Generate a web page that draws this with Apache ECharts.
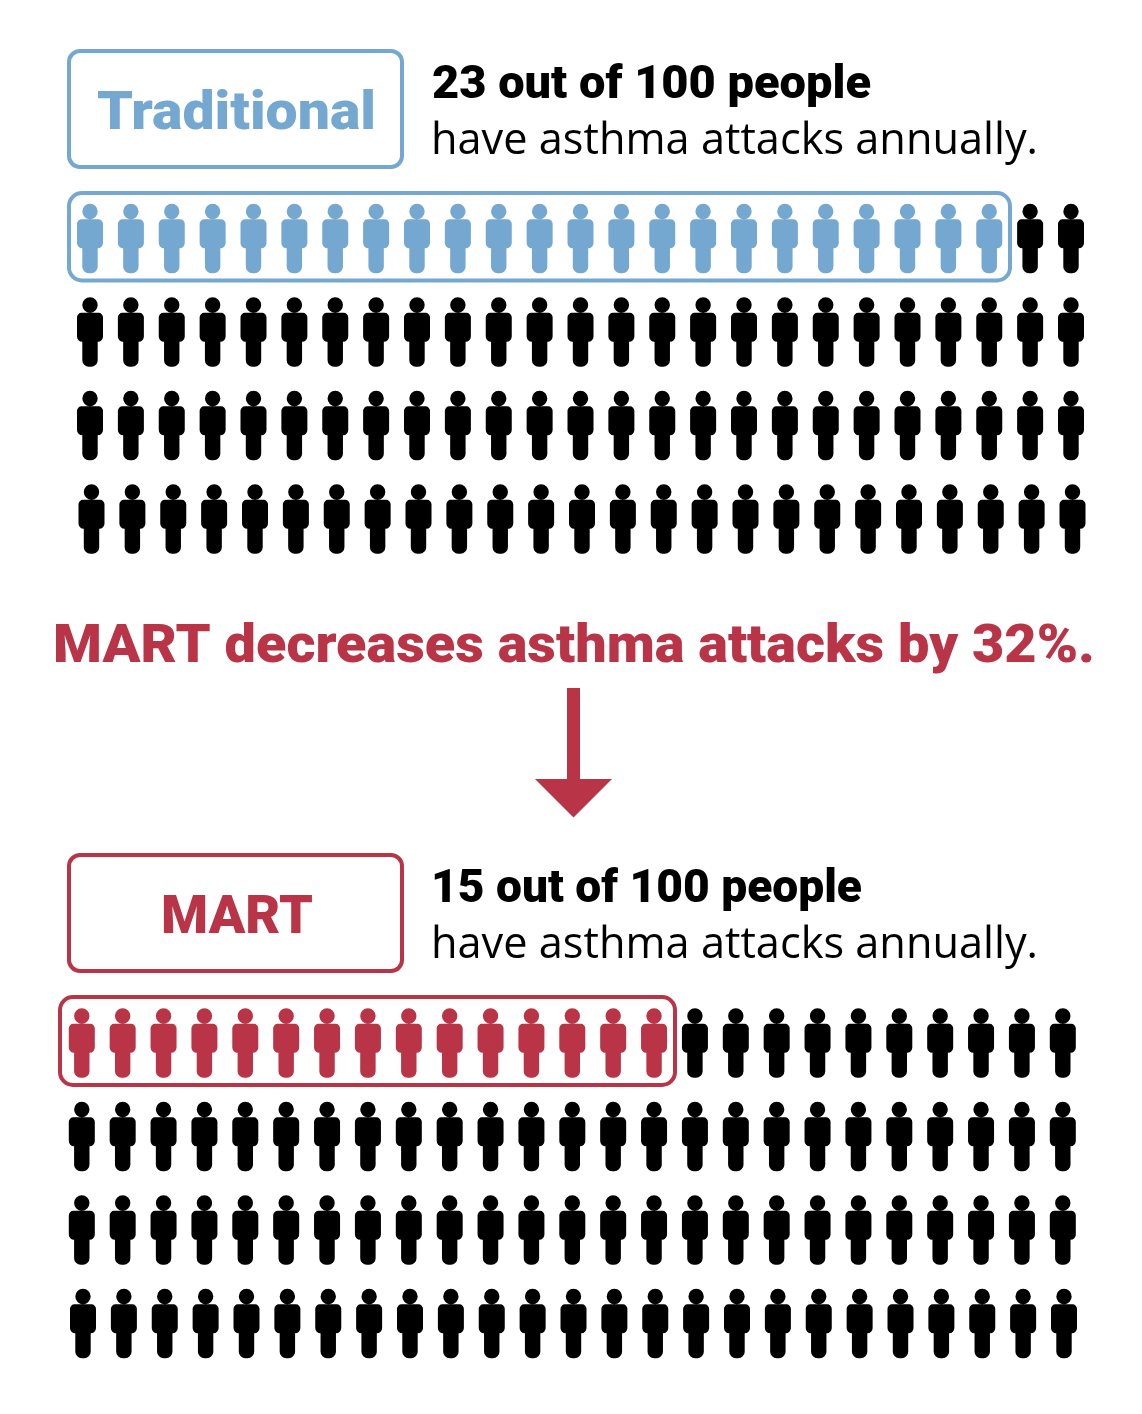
<!DOCTYPE html>
<html><head><meta charset="utf-8">
<style>html,body{margin:0;padding:0;background:#fff}#c{width:1142px;height:1414px}</style>
<script src="https://cdn.jsdelivr.net/npm/echarts@6/dist/echarts.min.js"></script>
</head><body><div id="c"></div>
<script>
// ---- data ----
const panelNames = ['Traditional', 'MART'];
const peoplePerRow = [25, 25, 25, 25];
const traditionalAffectedByRow = [23, 0, 0, 0];
const martAffectedByRow = [15, 0, 0, 0];
const traditionalHeadline = '23 out of 100 people';
const martHeadline = '15 out of 100 people';
const sublineText = 'have asthma attacks annually.';
const centerText = 'MART decreases asthma attacks by 32%.';

// ---- style ----
const BLUE = '#74a8d0', RED = '#b83446', BLACK = '#000000';
const PERSON = 'path://M13 0A7.7 7.7 0 0 1 13 15.4A7.7 7.7 0 0 1 13 0ZM4.5 15.6H21.5A4.5 4.5 0 0 1 26 20.1V39.4A5.2 5.2 0 0 1 20.8 44.6H20.7V63A6.6 6.6 0 0 1 14.1 69.6H11.9A6.6 6.6 0 0 1 5.3 63V44.6H5.2A5.2 5.2 0 0 1 0 39.4V20.1A4.5 4.5 0 0 1 4.5 15.6Z';
// layout of each row: [first person x, row centre y]
const rowLayout = [
  [[90, 238.5], [90, 332], [90, 425.5], [91.5, 519]],
  [[81.8, 1043], [81.8, 1136.5], [81.8, 1230], [83, 1323.5]]
];
const COL_SPAN = 981, ROW_H = 80;

const grids = [], xAxes = [], yAxes = [], series = [];
[traditionalAffectedByRow, martAffectedByRow].forEach((affected, p) => {
  const colour = p === 0 ? BLUE : RED;
  peoplePerRow.forEach((count, r) => {
    const g = grids.length;
    const [x0, cy] = rowLayout[p][r];
    grids.push({left: x0, top: cy - ROW_H / 2, width: COL_SPAN, height: ROW_H, containLabel: false});
    xAxes.push({type: 'value', gridIndex: g, min: 0, max: count - 1, show: false});
    yAxes.push({type: 'value', gridIndex: g, min: -1, max: 1, show: false});
    const hit = [], rest = [];
    for (let i = 0; i < count; i++) (i < affected[r] ? hit : rest).push([i, 0]);
    [[hit, colour, ' affected'], [rest, BLACK, ' unaffected']].forEach(([d, c, n]) => {
      series.push({
        type: 'scatter', name: panelNames[p] + n + ' row ' + (r + 1),
        xAxisIndex: g, yAxisIndex: g, data: d, symbol: PERSON, symbolSize: [26, 69.5],
        itemStyle: {color: c, opacity: 1}, silent: true, clip: false
      });
    });
  });
});

const ctx = document.createElement('canvas').getContext('2d');
function fit(text, x, baseline, width, size, weight, family, fill) {
  ctx.font = weight + ' ' + size + 'px ' + family;
  const w = ctx.measureText(text).width;
  return {type: 'text', x: x, y: baseline, scaleX: width / w, silent: true,
    style: {text: text, fill: fill, fontSize: size, fontWeight: weight, fontFamily: family,
      align: 'left', verticalAlign: 'bottom', lineHeight: size, padding: [0, 0, -0.2 * size, 0]}};
}
function frame(x, y, w, h, r, c) {
  return {type: 'rect', silent: true, shape: {x, y, width: w, height: h, r},
    style: {fill: 'none', stroke: c, lineWidth: 4}};
}
const BOLD = 'Roboto', REG = '"Open Sans"';
const graphics = [
  frame(69, 51, 333, 116, 11, BLUE),
  frame(69, 193, 941, 87.5, 13, BLUE),
  frame(69, 855, 333, 116, 11, RED),
  frame(60, 997, 615, 88, 13, RED),
  fit(panelNames[0], 97, 132, 279, 54, 900, BOLD, BLUE),
  fit(panelNames[1], 161, 936, 152, 54, 900, BOLD, RED),
  fit(traditionalHeadline, 432, 100, 439, 46, 900, BOLD, BLACK),
  fit(martHeadline, 431, 904, 431, 46, 900, BOLD, BLACK),
  fit(sublineText, 431, 154.5, 607, 43, 400, REG, BLACK),
  fit(sublineText, 431, 958.5, 607, 43, 400, REG, BLACK),
  fit(centerText, 53, 665, 1042, 54, 900, BOLD, RED),
  {type: 'polygon', silent: true, shape: {points: [[567, 688], [580, 688], [580, 779], [612, 779], [573.5, 817.5], [535, 779], [567, 779]]},
    style: {fill: RED}}
];

const chart = echarts.init(document.getElementById('c'), null, {renderer: 'canvas', width: 1142, height: 1414});
chart.setOption({
  animation: false, backgroundColor: '#ffffff',
  grid: grids, xAxis: xAxes, yAxis: yAxes, series: series,
  graphic: {elements: graphics}
});
</script></body></html>
